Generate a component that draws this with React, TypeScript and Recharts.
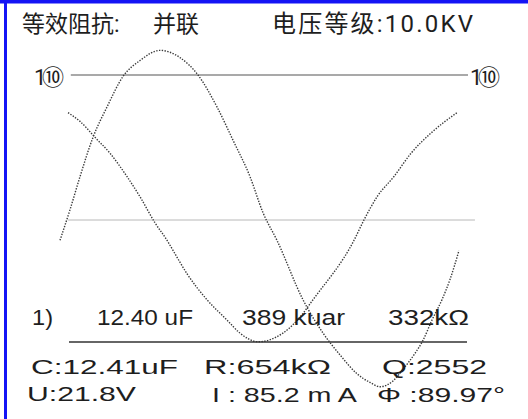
import React from 'react';
import { LineChart, Line, XAxis, YAxis } from 'recharts';

// Phase in degrees, amplitude in scale units (upper reference = 10)
const phaseA = [0, 8.3, 16.7, 27.5, 39.2, 52.5, 66.7, 83.3, 100, 115, 130.8, 144.2, 158.3, 169.2, 180.8, 202.5, 219.2, 233.3, 247.5, 258.3, 266.7, 277.5, 285.8, 295.8, 302.5, 310, 318.3, 325, 332.5];
const waveA = [-1.4, 0.7, 3.0, 5.7, 7.8, 9.9, 11.0, 11.7, 11.2, 10.0, 7.8, 5.5, 3.0, 0.5, -1.4, -5.5, -7.8, -9.3, -10.6, -11.2, -11.5, -11.1, -10.3, -9.2, -8.3, -6.9, -5.5, -4.1, -2.1];
const phaseB = [6.7, 16.7, 29.2, 41.7, 55.8, 66.7, 79.2, 89.2, 94.2, 105.8, 122.5, 139.2, 150, 165, 185.8, 200, 210.8, 245, 253.3, 264.2, 278.3, 292.5, 309.2, 330.8];
const waveB = [7.4, 6.8, 5.7, 4.6, 3.0, 1.6, -0.2, -1.4, -2.1, -3.7, -5.5, -6.9, -7.8, -8.4, -7.8, -6.7, -5.5, -1.4, 0, 1.6, 3.0, 4.6, 6.0, 7.4];
const refUpperX = [9, 340];
const refUpperV = [10, 10];
const refCenterX = [6.7, 345.8];
const refCenterV = [0, 0];

const headerLeft = '等效阻抗:';
const headerMode = '并联';
const headerRight = '电压等级:10.0KV';
const scaleLabel = '1⑩';
const resultRow = ['1)', '12.40 uF', '389 kuar', '332kΩ'];
const measureRow1 = ['C:12.41uF', 'R:654kΩ', 'Q:2552'];
const measureRow2 = ['U:21.8V', 'I : 85.2 m A', 'Φ :89.97°'];

const zip = (xs: number[], vs: number[]) => xs.map((x, i) => ({ x, v: vs[i] }));
const dataA = zip(phaseA, waveA);
const dataB = zip(phaseB, waveB);
const dataUpper = zip(refUpperX, refUpperV);
const dataCenter = zip(refCenterX, refCenterV);

const sans = '"Liberation Sans", Arial, sans-serif';
const cjk = 'Roboto, "Noto Sans CJK SC", sans-serif';

export default function App() {
  const txt = (s: string, x: number, y: number, len: number | undefined, size = 21, family = sans, adjust = 'spacing') => (
    <text x={x} y={y} fontSize={size} fontFamily={family} fill="#1e1e1e" textLength={len} lengthAdjust={len ? adjust : undefined}>{s}</text>
  );
  const stretch = 'spacingAndGlyphs';
  return (
    <div style={{ position: 'absolute', left: 0, top: 0, width: 528, height: 419, background: '#fff', overflow: 'hidden' }}>
      <LineChart width={528} height={419} margin={{ top: 2.5, right: 0, bottom: 10.5, left: 0 }}>
        <XAxis type="number" dataKey="x" domain={[-50, 390]} hide allowDataOverflow />
        <YAxis type="number" domain={[-13, 15]} hide width={0} allowDataOverflow />
        <Line data={dataCenter} dataKey="v" stroke="#b8b8b8" strokeWidth={1} dot={false} isAnimationActive={false} />
        <Line data={dataUpper} dataKey="v" stroke="#555" strokeWidth={1.2} dot={false} isAnimationActive={false} />
        <Line data={dataA} dataKey="v" type="monotone" stroke="#3a3a3a" strokeWidth={1.4} strokeDasharray="1.4 1.4" dot={false} isAnimationActive={false} />
        <Line data={dataB} dataKey="v" type="monotone" stroke="#3a3a3a" strokeWidth={1.4} strokeDasharray="1.4 1.4" dot={false} isAnimationActive={false} />
      </LineChart>
      <svg width={528} height={419} style={{ position: 'absolute', left: 0, top: 0, pointerEvents: 'none' }}>
        <rect x={0} y={0} width={528} height={3.5} fill="#1414f5" />
        <rect x={4} y={0} width={3} height={419} fill="#1414f5" />
        {txt(headerLeft, 22, 32, undefined, 23, cjk)}
        {txt(headerMode, 153, 32, undefined, 23, cjk)}
        {txt(headerRight, 272, 32, 201, 24, cjk)}
        {txt(scaleLabel, 34, 85, 30, 22, cjk)}
        {txt(scaleLabel, 470, 85, 30, 22, cjk)}
        {txt(resultRow[0], 32, 325, 21, 22, sans, stretch)}
        {txt(resultRow[1], 97, 325, 96, 22, sans, stretch)}
        {txt(resultRow[2], 242, 325, 103, 22, sans, stretch)}
        {txt(resultRow[3], 388, 325, 81, 22, sans, stretch)}
        <line x1={69} x2={467} y1={342} y2={342} stroke="#333" strokeWidth={1.5} />
        {txt(measureRow1[0], 31, 374, 147, 21, sans, stretch)}
        {txt(measureRow1[1], 204, 374, 127, 21, sans, stretch)}
        {txt(measureRow1[2], 382, 374, 105, 21, sans, stretch)}
        {txt(measureRow2[0], 27, 401, 109, 21, sans, stretch)}
        {txt(measureRow2[1], 212, 402, 145, 21, sans, stretch)}
        {txt(measureRow2[2], 377, 402, 128, 21, sans, stretch)}
      </svg>
    </div>
  );
}
